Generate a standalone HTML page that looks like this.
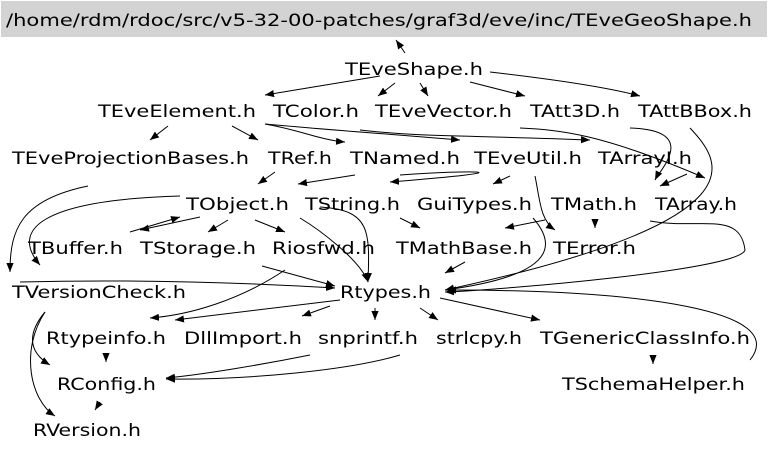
<!DOCTYPE html>
<html><head><meta charset="utf-8"><style>
html,body{margin:0;padding:0;background:#fff;width:768px;height:451px;overflow:hidden}
svg text{font-family:"DejaVu Sans","Liberation Sans",sans-serif;font-size:17px;fill:#000}
</style></head><body>
<svg width="768" height="451" viewBox="0 0 768 451" xmlns="http://www.w3.org/2000/svg">
<defs><marker id="a" viewBox="0 0 10 10" refX="10" refY="5" markerWidth="9" markerHeight="9" orient="auto" markerUnits="userSpaceOnUse"><path d="M0,1 L10,5 L0,9z" fill="#000"/></marker></defs>
<rect x="1" y="1" width="766" height="36" fill="#d3d3d3"/>
<text x="6" y="26" textLength="746" lengthAdjust="spacingAndGlyphs">/home/rdm/rdoc/src/v5-32-00-patches/graf3d/eve/inc/TEveGeoShape.h</text>
<g fill="none" stroke="#000" stroke-width="1" marker-end="url(#a)">
<path d="M405,53 L396,40"/>
<path d="M380,76 L265,95"/>
<path d="M395,83 L378,96"/>
<path d="M420,83 L428,96"/>
<path d="M470,82 L525,96"/>
<path d="M490,72 C560,80 610,88 640,96"/>
<path d="M168,126 L150,140"/>
<path d="M232,126 L258,140"/>
<path d="M265,124 C300,130 320,140 345,142"/>
<path d="M265,124 C330,130 400,135 460,140"/>
<path d="M360,130 C420,137 460,135 590,140"/>
<path d="M520,128 C560,130 600,133 705,178" />
<path d="M630,128 C700,130 660,170 655,180"/>
<path d="M690,128 C720,160 770,220 445,290"/>
<path d="M275,172 L258,184"/>
<path d="M355,175 L298,184"/>
<path d="M400,175 C470,170 540,170 390,182"/>
<path d="M510,176 L493,184"/>
<path d="M535,176 C540,200 540,220 555,230"/>
<path d="M687,174 L660,186"/>
<path d="M88,186 C20,200 10,230 10,272"/>
<path d="M180,196 C40,200 10,230 40,265"/>
<path d="M320,207 C370,210 370,230 368,282"/>
<path d="M200,217 L140,230"/>
<path d="M130,232 L180,217"/>
<path d="M228,220 L208,232"/>
<path d="M255,220 L285,232"/>
<path d="M400,218 L420,228"/>
<path d="M300,218 C320,230 360,260 368,282"/>
<path d="M545,220 L505,228"/>
<path d="M595,220 L595,228"/>
<path d="M650,221 C700,230 740,210 745,250 C740,270 500,290 445,292"/>
<path d="M533,218 C570,260 520,280 445,290"/>
<path d="M465,262 L445,273"/>
<path d="M262,266 L335,286"/>
<path d="M20,282 C100,280 200,280 335,288"/>
<path d="M285,270 C240,300 190,315 150,318"/>
<path d="M340,300 L175,320"/>
<path d="M330,306 L302,316"/>
<path d="M375,308 L375,320"/>
<path d="M420,308 L438,320"/>
<path d="M440,298 L540,320"/>
<path d="M750,360 C790,310 640,290 447,290"/>
<path d="M45,312 C30,330 25,350 50,365"/>
<path d="M45,312 C20,350 30,400 55,416"/>
<path d="M106,355 L106,362"/>
<path d="M310,355 C260,365 200,375 166,378"/>
<path d="M400,355 C350,370 250,380 166,379"/>
<path d="M653,355 L653,364"/>
<path d="M100,402 L95,410"/>
</g>
<text x="345" y="75" textLength="138" lengthAdjust="spacingAndGlyphs">TEveShape.h</text>
<text x="98" y="117" textLength="158" lengthAdjust="spacingAndGlyphs">TEveElement.h</text>
<text x="273" y="117" textLength="86" lengthAdjust="spacingAndGlyphs">TColor.h</text>
<text x="375" y="117" textLength="137" lengthAdjust="spacingAndGlyphs">TEveVector.h</text>
<text x="530" y="117" textLength="90" lengthAdjust="spacingAndGlyphs">TAtt3D.h</text>
<text x="638" y="117" textLength="114" lengthAdjust="spacingAndGlyphs">TAttBBox.h</text>
<text x="12" y="164" textLength="237" lengthAdjust="spacingAndGlyphs">TEveProjectionBases.h</text>
<text x="268" y="164" textLength="64" lengthAdjust="spacingAndGlyphs">TRef.h</text>
<text x="350" y="164" textLength="110" lengthAdjust="spacingAndGlyphs">TNamed.h</text>
<text x="474" y="164" textLength="108" lengthAdjust="spacingAndGlyphs">TEveUtil.h</text>
<text x="598" y="164" textLength="94" lengthAdjust="spacingAndGlyphs">TArrayI.h</text>
<text x="186" y="210" textLength="103" lengthAdjust="spacingAndGlyphs">TObject.h</text>
<text x="305" y="210" textLength="95" lengthAdjust="spacingAndGlyphs">TString.h</text>
<text x="417" y="210" textLength="115" lengthAdjust="spacingAndGlyphs">GuiTypes.h</text>
<text x="551" y="210" textLength="86" lengthAdjust="spacingAndGlyphs">TMath.h</text>
<text x="655" y="210" textLength="82" lengthAdjust="spacingAndGlyphs">TArray.h</text>
<text x="28" y="254" textLength="95" lengthAdjust="spacingAndGlyphs">TBuffer.h</text>
<text x="140" y="254" textLength="116" lengthAdjust="spacingAndGlyphs">TStorage.h</text>
<text x="272" y="254" textLength="103" lengthAdjust="spacingAndGlyphs">Riosfwd.h</text>
<text x="396" y="254" textLength="136" lengthAdjust="spacingAndGlyphs">TMathBase.h</text>
<text x="553" y="254" textLength="83" lengthAdjust="spacingAndGlyphs">TError.h</text>
<text x="12" y="298" textLength="174" lengthAdjust="spacingAndGlyphs">TVersionCheck.h</text>
<text x="340" y="298" textLength="91" lengthAdjust="spacingAndGlyphs">Rtypes.h</text>
<text x="46" y="344" textLength="120" lengthAdjust="spacingAndGlyphs">Rtypeinfo.h</text>
<text x="184" y="344" textLength="118" lengthAdjust="spacingAndGlyphs">DllImport.h</text>
<text x="318" y="344" textLength="100" lengthAdjust="spacingAndGlyphs">snprintf.h</text>
<text x="436" y="344" textLength="86" lengthAdjust="spacingAndGlyphs">strlcpy.h</text>
<text x="540" y="344" textLength="210" lengthAdjust="spacingAndGlyphs">TGenericClassInfo.h</text>
<text x="57" y="390" textLength="99" lengthAdjust="spacingAndGlyphs">RConfig.h</text>
<text x="562" y="390" textLength="183" lengthAdjust="spacingAndGlyphs">TSchemaHelper.h</text>
<text x="33" y="436" textLength="108" lengthAdjust="spacingAndGlyphs">RVersion.h</text>
</svg>
</body></html>
